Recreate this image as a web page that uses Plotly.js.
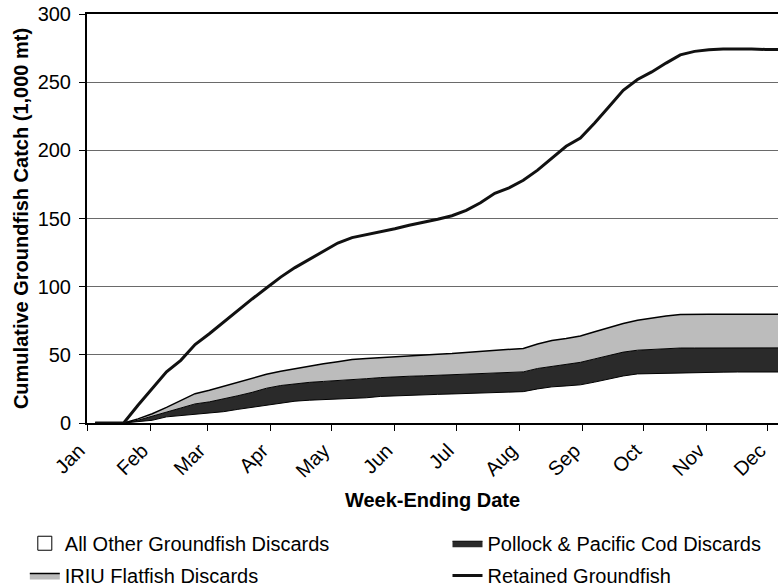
<!DOCTYPE html>
<html>
<head>
<meta charset="utf-8">
<script src="https://cdn.plot.ly/plotly-3.0.1.min.js"></script>
<style>html,body{margin:0;padding:0;background:#fff;}#chart{width:778px;height:586px;}</style>
</head>
<body>
<div id="chart"></div>
<script>
// Week-ending dates
var weekEnding = [
  '2002-01-05','2002-01-12','2002-01-19','2002-01-26',
  '2002-02-02','2002-02-09','2002-02-16','2002-02-23',
  '2002-03-02','2002-03-09','2002-03-16','2002-03-23','2002-03-30',
  '2002-04-06','2002-04-13','2002-04-20','2002-04-27',
  '2002-05-04','2002-05-11','2002-05-18','2002-05-25',
  '2002-06-01','2002-06-08','2002-06-15','2002-06-22','2002-06-29',
  '2002-07-06','2002-07-13','2002-07-20','2002-07-27',
  '2002-08-03','2002-08-10','2002-08-17','2002-08-24','2002-08-31',
  '2002-09-07','2002-09-14','2002-09-21','2002-09-28',
  '2002-10-05','2002-10-12','2002-10-19','2002-10-26',
  '2002-11-02','2002-11-09','2002-11-16','2002-11-23','2002-11-30',
  '2002-12-07'
];

// Cumulative catch, 1,000 mt
var allOtherDiscards = [0,0,0,1, 2,4.5,5.5,6.5, 7,8.3,10,11.5,13.3, 15,16,16.7,17.1, 17.5,18,18.5,19.5,
  20,20.5,20.8,21,21.3, 21.6,22,22.3,22.6, 23,25,26.5,27.2,28, 30,32.5,34.5,36, 36.3,36.5,36.8,37,
  37.2,37.3,37.4,37.4,37.4, 37.4];
var pollockCodDiscards = [0,0,0,1, 2.8,3.5,5.5,7.5, 8.5,9.2,10,11,12.2, 12.5,12.8,13.1,13.4, 13.5,13.5,14,13.8,
  14,13.8,13.8,14,13.9, 13.9,14,14.2,14.4, 14.5,15,15,15.8,16.5, 17,17,17.5,17.4, 17.7,18.1,18.2,18,
  17.9,17.8,17.7,17.7,17.7, 17.7];
var iriuFlatfishDiscards = [0,0,0,1, 2,3.5,5.5,7.5, 8.5,9.5,10,10.5,10.2, 10.5,11.2,12,13, 14,15,14.8,14.7,
  14.8,15.2,15.4,15.5,15.8, 16.2,16.3,16.5,16.8, 17.2,18,19,19,19.3, 20,20.5,21,22, 23,23.9,24.5,24.8,
  24.7,24.7,24.7,24.7,24.7, 24.7];
var retainedGroundfish = [0,0,0,13, 25,37.5,46,57.5, 65.5,74,83,91,99, 107,114,120,126.5, 132,136,138,140,
  142.5,145,147,149.5,152, 156,161.5,168.5,172.5, 178,185.5,194,203,209, 220,232,244,252, 257.5,264,270,272.6,
  273.8,274.3,274.5,274.3,274, 274];

var seriesNames = ['All Other Groundfish Discards','Pollock & Pacific Cod Discards','IRIU Flatfish Discards','Retained Groundfish'];
var yTitle = 'Cumulative Groundfish Catch (1,000 mt)';
var xTitle = 'Week-Ending Date';

var FONT = 'Liberation Sans, Arial, Helvetica, sans-serif';

var traces = [
  {x: weekEnding, y: allOtherDiscards, name: seriesNames[0], type: 'scatter', mode: 'lines',
   stackgroup: 'disc', fillcolor: '#ffffff', line: {color: '#000', width: 1}, showlegend: false, hoverinfo: 'skip'},
  {x: weekEnding, y: pollockCodDiscards, name: seriesNames[1], type: 'scatter', mode: 'lines',
   stackgroup: 'disc', fillcolor: '#2a2a2a', line: {color: '#000', width: 1}, legend: 'legend2', hoverinfo: 'skip'},
  {x: weekEnding, y: iriuFlatfishDiscards, name: seriesNames[2], type: 'scatter', mode: 'lines',
   stackgroup: 'disc', fillcolor: '#bcbcbc', line: {color: '#000', width: 1.5}, legend: 'legend3', hoverinfo: 'skip'},
  {x: weekEnding, y: retainedGroundfish, name: seriesNames[3], type: 'scatter', mode: 'lines',
   line: {color: '#111', width: 3}, legend: 'legend4', hoverinfo: 'skip'},
  // legend key only (open box) for the white "All Other" area
  {x: [null], y: [null], name: seriesNames[0], type: 'scatter', mode: 'markers',
   marker: {symbol: 'square', size: 14, color: '#fff', line: {color: '#000', width: 1}},
   legend: 'legend', hoverinfo: 'skip'}
];

function leg(x, y) {
  return {
    orientation: 'h', xanchor: 'left', yanchor: 'middle', x: x, y: y,
    font: {family: FONT, size: 20, color: '#000'},
    bgcolor: 'rgba(0,0,0,0)'
  };
}

var layout = {
  width: 778, height: 586,
  margin: {l: 87, r: 0, t: 14, b: 163, autoexpand: false},
  paper_bgcolor: '#fff', plot_bgcolor: '#fff',
  font: {family: FONT, color: '#000'},
  showlegend: true,
  legend: leg(-0.09, -0.294),
  legend2: leg(0.5217, -0.294),
  legend3: leg(-0.09, -0.3727),
  legend4: leg(0.5217, -0.3727),
  xaxis: {
    type: 'date', range: ['2002-01-01', '2002-12-05 22:00'],
    tick0: '2002-01-01', dtick: 'M1', tickformat: '%b', tickangle: -45,
    ticks: 'outside', ticklen: 6, tickcolor: '#000', tickwidth: 1,
    showline: true, linecolor: '#000', linewidth: 2, mirror: true,
    showgrid: false, zeroline: false, ticklabelshift: -8,
    tickfont: {family: FONT, size: 20, color: '#000'},
    title: {text: '<b>' + xTitle + '</b>', font: {family: FONT, size: 20, color: '#000'}, standoff: 12}
  },
  yaxis: {
    range: [0, 300], dtick: 50, tick0: 0,
    ticks: 'outside', ticklen: 6, tickcolor: '#000', tickwidth: 1,
    showline: true, linecolor: '#000', linewidth: 2, ticklabelstandoff: 4,
    showgrid: true, gridcolor: '#6a6a6a', gridwidth: 1, zeroline: false,
    tickfont: {family: FONT, size: 20, color: '#000'},
    title: {text: '<b>' + yTitle + '</b>', font: {family: FONT, size: 20, color: '#000'}, standoff: 4}
  }
};

Plotly.newPlot('chart', traces, layout, {staticPlot: true, displayModeBar: false});
</script>
</body>
</html>
